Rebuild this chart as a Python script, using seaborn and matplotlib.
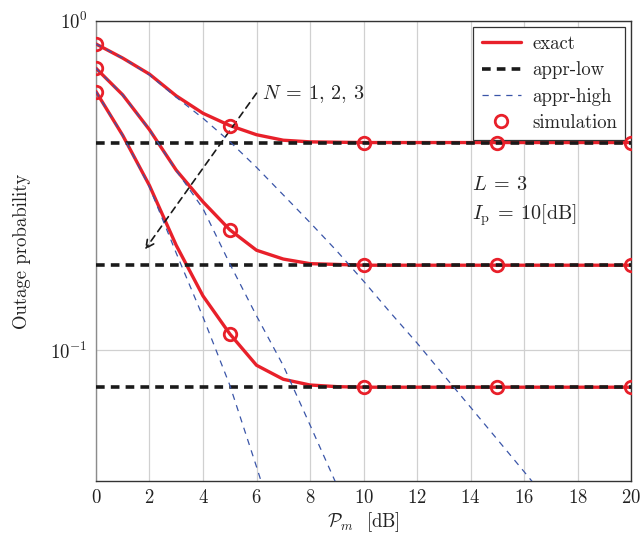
import numpy as np
import pandas as pd
import matplotlib
matplotlib.use("Agg")
import matplotlib.pyplot as plt
import seaborn as sns
from matplotlib.ticker import NullFormatter, NullLocator

# --------- dados (probabilidade de outage vs P_m [dB])
pm_db = [0, 1, 2, 3, 4, 5, 6, 7, 8, 9, 10, 12, 14, 16, 18, 20]

exact_n1 = [0.851, 0.771, 0.689, 0.592, 0.524, 0.481, 0.451, 0.434, 0.429, 0.428,
            0.427, 0.427, 0.427, 0.427, 0.427, 0.427]
exact_n2 = [0.718, 0.596, 0.467, 0.352, 0.282, 0.232, 0.201, 0.189, 0.183, 0.182,
            0.181, 0.181, 0.181, 0.181, 0.181, 0.181]
exact_n3 = [0.610, 0.449, 0.316, 0.208, 0.146, 0.112, 0.0899, 0.0815, 0.0783, 0.0774,
            0.0771, 0.0771, 0.0771, 0.0771, 0.0771, 0.0771]

# aproximação de alta SNR (curvas azuis)
high_x1 = [0, 1, 2, 3, 4, 5, 6, 7, 8, 9, 10, 11, 12, 13, 14, 15, 16, 17]
high_n1 = [0.851, 0.771, 0.685, 0.586, 0.506, 0.430, 0.359, 0.296, 0.244, 0.200,
           0.162, 0.130, 0.105, 0.0838, 0.0670, 0.0535, 0.0427, 0.0340]
high_x2 = [0, 1, 2, 3, 4, 5, 6, 7, 8, 9, 10]
high_n2 = [0.718, 0.596, 0.467, 0.351, 0.269, 0.183, 0.127, 0.0897, 0.0592, 0.0389, 0.0257]
high_x3 = [0, 1, 2, 3, 4, 5, 6, 7]
high_n3 = [0.610, 0.449, 0.313, 0.197, 0.126, 0.0783, 0.0442, 0.0245]

# aproximação de baixa SNR (patamares)
low_x = [0, 20]
low_levels = [0.427, 0.181, 0.0771]

# simulação
sim_x = [0, 5, 10, 15, 20]
sim_n1 = [0.851, 0.481, 0.427, 0.427, 0.427]
sim_n2 = [0.718, 0.232, 0.181, 0.181, 0.181]
sim_n3 = [0.610, 0.112, 0.0771, 0.0771, 0.0771]

xticks = list(range(0, 21, 2))

red = '#e8202a'
blue = '#3a55a8'
black = '#1a1a1a'

sns.set_theme(style='whitegrid')
plt.rcParams['font.family'] = ['cmr10', 'DejaVu Serif']
plt.rcParams['mathtext.fontset'] = 'cm'
plt.rcParams['axes.formatter.use_mathtext'] = True
plt.rcParams['font.size'] = 13

fig = plt.figure(figsize=(6.44, 5.36), dpi=100)
ax = fig.add_axes([0.149, 0.1026, 0.831, 0.8584])
ax.set_yscale('log')

# exact
for i, ys in enumerate([exact_n1, exact_n2, exact_n3]):
    sns.lineplot(x=pm_db, y=ys, ax=ax, color=red, lw=2.4, zorder=3,
                 label='exact' if i == 0 else None)

# appr-low
for i, lv in enumerate(low_levels):
    sns.lineplot(x=low_x, y=[lv, lv], ax=ax, color=black, lw=2.6, zorder=4,
                 dashes=(2.4, 1.7), label='appr-low' if i == 0 else None)

# appr-high
for i, (xs, ys) in enumerate([(high_x1, high_n1), (high_x2, high_n2), (high_x3, high_n3)]):
    sns.lineplot(x=xs, y=ys, ax=ax, color=blue, lw=0.9, zorder=5,
                 dashes=(5, 4.5), label='appr-high' if i == 0 else None)

# simulation
for i, ys in enumerate([sim_n1, sim_n2, sim_n3]):
    sns.lineplot(x=sim_x, y=ys, ax=ax, linestyle='none', marker='o', ms=9,
                 mfc='none', mec=red, mew=2, zorder=6,
                 label='simulation' if i == 0 else None)

ax.set_xlim(0, 20)
ax.set_ylim(0.0400, 1.0)
ax.set_xticks(xticks)
ax.yaxis.set_minor_locator(NullLocator())
ax.yaxis.set_minor_formatter(NullFormatter())
ax.tick_params(length=0, labelsize=13.5, colors='#222222', pad=6)

ax.grid(True, which='major', color='#d0d0d0', lw=0.9)
ax.set_facecolor('white')
for side, sp in ax.spines.items():
    sp.set_color('#333333')
    sp.set_linewidth(1.0)
ax.spines['left'].set_color('#8c8c8c')

ax.set_xlabel(r'$\mathcal{P}_m$  [dB]', fontsize=13.5, color='#222222', labelpad=2)
ax.set_ylabel('Outage probability', fontsize=13.5, color='#222222', labelpad=14)

# seta N = 1, 2, 3
ax.annotate('', xy=(1.83, 0.202), xytext=(6.0, 0.603),
            arrowprops=dict(arrowstyle='->', color=black, lw=1.2, linestyle=(0, (4, 3)),
                            shrinkA=0, shrinkB=0, mutation_scale=14))
ax.text(6.2, 0.60, r'$N\:=\:1,\,2,\,3$', fontsize=14.5, va='center', ha='left')

ax.text(14.05, 0.318, r'$L\:=\:3$', fontsize=14.5, va='center', ha='left')
ax.text(14.05, 0.257, r'$I_{\mathrm{p}}\:=\:10[\mathrm{dB}]$', fontsize=14.5, va='center', ha='left')

leg = ax.legend(loc='upper right', fontsize=13.5, frameon=True, fancybox=False,
                framealpha=1, edgecolor='#333333', handlelength=2.1,
                borderaxespad=0.3, labelspacing=0.45, borderpad=0.45, handletextpad=0.6)
leg.get_frame().set_linewidth(0.9)

fig.savefig('out.png', dpi=100)
